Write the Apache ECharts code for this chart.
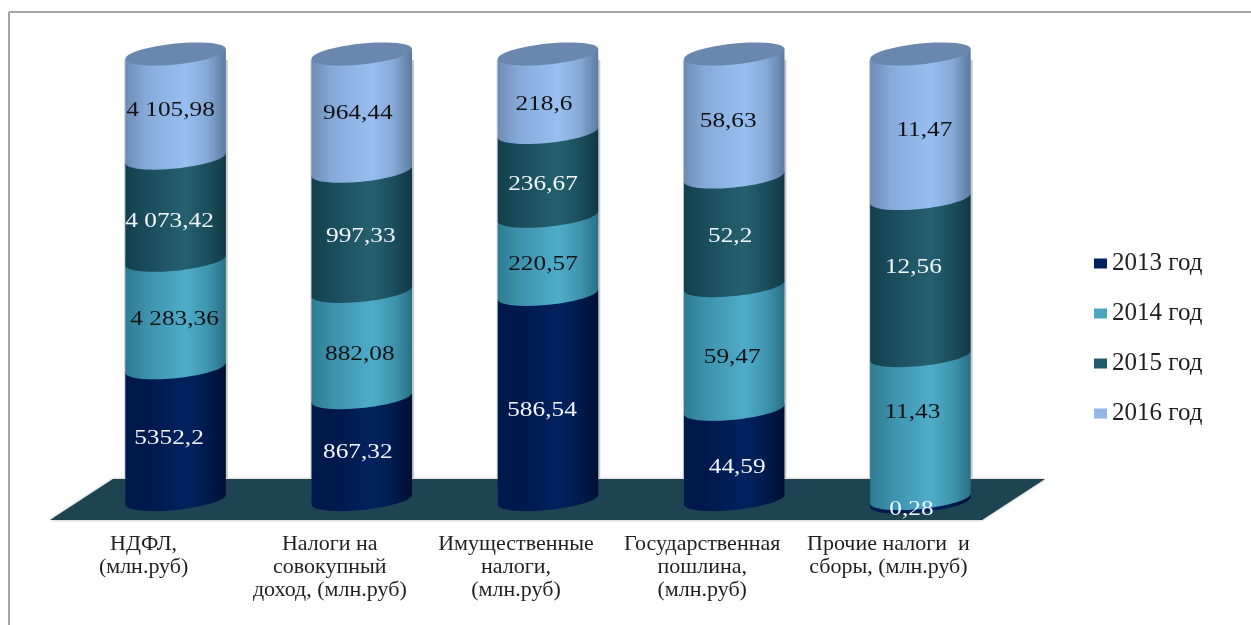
<!DOCTYPE html>
<html>
<head>
<meta charset="utf-8">
<style>html,body{margin:0;padding:0;background:#fff}#main{width:1251px;height:625px}</style>
<script src="https://cdn.jsdelivr.net/npm/echarts@6/dist/echarts.min.js"></script>
</head>
<body>
<div id="main"></div>
<script>
const categories = ['НДФЛ,\n(млн.руб)', 'Налоги на\nсовокупный\nдоход, (млн.руб)', 'Имущественные\nналоги,\n(млн.руб)', 'Государственная\nпошлина,\n(млн.руб)', 'Прочие налоги  и\nсборы, (млн.руб)'];
const seriesNames = ['2013 год', '2014 год', '2015 год', '2016 год'];
const values2013 = [5352.2, 867.32, 586.54, 44.59, 0.28];
const values2014 = [4283.36, 882.08, 220.57, 59.47, 11.43];
const values2015 = [4073.42, 997.33, 236.67, 52.2, 12.56];
const values2016 = [4105.98, 964.44, 218.6, 58.63, 11.47];
const labels2013 = ['5352,2', '867,32', '586,54', '44,59', '0,28'];
const labels2014 = ['4 283,36', '882,08', '220,57', '59,47', '11,43'];
const labels2015 = ['4 073,42', '997,33', '236,67', '52,2', '12,56'];
const labels2016 = ['4 105,98', '964,44', '218,6', '58,63', '11,47'];

const allValues = [values2013, values2014, values2015, values2016];
const allLabels = [labels2013, labels2014, labels2015, labels2016];
const legendColors = ['#002060', '#4aa5c2', '#215a6b', '#93b7e9'];
const gradients = [
  ['#001a4c', '#00174a', '#02225f', '#001a4c', '#000f33'],
  ['#2f7b93', '#3c90aa', '#4fadca', '#3f94ae', '#2a6f85'],
  ['#123f4c', '#1a4c5b', '#25606f', '#1b4e5c', '#113844'],
  ['#6e8cb5', '#86a9d9', '#98bff2', '#86a8d6', '#5c7aa0']
];
const labelColors = ['#f2f6ff', '#111111', '#f2f6ff', '#111111'];
// Hand placement of the value labels, as in the reference: pixel nudge [dx, dy] from each segment's middle.
const labelNudges = [
  [[-6.6, 3.6], [-4, 2.7], [-6, 12.3], [3, 12], [-9, 10]],
  [[-1, 5.5], [-2, 10], [-5, 9], [-2, 10], [-8, -14.5]],
  [[-6, 12.5], [-1, 6], [-5, 10], [-4, 6], [-7, -9.5]],
  [[-5, 4], [-4, 0.5], [-4, 11], [-6, 5.5], [4, 4]]
];

const gradientFill = (c) => new echarts.graphic.LinearGradient(0, 0, 1, 0, [
  {offset: 0, color: c[0]}, {offset: 0.2, color: c[1]}, {offset: 0.6, color: c[2]}, {offset: 0.82, color: c[3]}, {offset: 1, color: c[4]}
]);

const RY = 10.5, TILT = 5, STRETCH = 1.265, TOP_LIFT = 1, BASE_LIFT = 2.5, FLOOR_DEPTH = 24;
function arcPoints(cx, a, y, from, to) {
  const pts = [];
  const n = 48;
  for (let i = 0; i <= n; i++) {
    const t = from + (to - from) * i / n;
    pts.push([cx + a * Math.cos(t), y + RY * Math.sin(t) - TILT * Math.cos(t)]);
  }
  return pts;
}

const makeSeries = (si) => {
  const last = si === allValues.length - 1;
  const data = categories.map((_, ci) => {
    const total = allValues.reduce((s, arr) => s + arr[ci], 0);
    let low = 0;
    for (let k = 0; k < si; k++) low += allValues[k][ci];
    const high = low + allValues[si][ci];
    return [ci, low / total * 100, high / total * 100];
  });
  return {
    type: 'custom',
    name: seriesNames[si],
    coordinateSystem: 'cartesian2d',
    itemStyle: {color: legendColors[si]},
    encode: {x: 0, y: [1, 2]},
    clip: false,
    silent: true,
    data,
    renderItem: (params, api) => {
      const ci = api.value(0);
      const lowP = api.coord([ci, api.value(1)]);
      const highP = api.coord([ci, api.value(2)]);
      const a = api.size([1, 0])[0] * 0.27;
      const cx = lowP[0];
      const h = lowP[1] - highP[1];
      const lowY = si === 0 && h >= 10 ? lowP[1] - BASE_LIFT : lowP[1];
      const highY = last ? highP[1] - TOP_LIFT : highP[1];
      const bottomArc = arcPoints(cx, a, lowY, Math.PI, 0);
      const topEdge = [[cx + a, highY - TILT], [cx - a, highY + TILT]];
      const children = [];
      if (si === 0) {
        // soft grey edge that the cylinders cast on the white page, stopping at the floor
        const topY = api.coord([ci, 100])[1] + TILT;
        children.push({
          type: 'rect',
          z2: -1,
          shape: {x: cx - a - 1, y: topY, width: 2 * a + 3, height: lowP[1] - FLOOR_DEPTH - topY},
          style: {fill: '#c6cacf'}
        });
      }
      children.push({
        type: 'polygon',
        shape: {points: bottomArc.concat(topEdge)},
        style: {fill: gradientFill(gradients[si])}
      });
      if (last) {
        children.push({
          type: 'polygon',
          z2: 5,
          shape: {points: arcPoints(cx, a, highY, 0, Math.PI * 2)},
          style: {fill: '#6a88ae'}
        });
      }
      const nudge = labelNudges[si][ci];
      children.push({
        type: 'text',
        z2: 100,
        x: cx + nudge[0],
        y: (lowP[1] + highP[1]) / 2 + nudge[1],
        scaleX: STRETCH,
        style: {
          text: allLabels[si][ci],
          fill: labelColors[h < 10 ? 0 : si],
          font: '20px "Liberation Serif"',
          align: 'center',
          verticalAlign: 'middle'
        }
      });
      return {type: 'group', children};
    }
  };
};

const chart = echarts.init(document.getElementById('main'));
chart.setOption({
  animation: false,
  backgroundColor: '#ffffff',
  grid: {left: 82.5, width: 931, top: 55, height: 447},
  xAxis: {
    type: 'category',
    data: categories,
    axisLine: {show: false},
    axisTick: {show: false},
    axisLabel: {
      interval: 0,
      margin: 31,
      color: '#1f1f1f',
      fontFamily: 'Liberation Serif',
      fontSize: 22,
      lineHeight: 23,
      padding: [0, 64, 0, 0]
    }
  },
  yAxis: {type: 'value', min: 0, max: 100, show: false},
  legend: {
    orient: 'vertical',
    left: 1089,
    top: 246,
    itemWidth: 13,
    itemHeight: 10,
    itemGap: 25,
    icon: 'rect',
    data: seriesNames,
    textStyle: {fontFamily: 'Liberation Serif', fontSize: 25, color: '#1f1f1f'}
  },
  graphic: [
    {type: 'line', z: -1, silent: true, shape: {x1: 9, y1: 12, x2: 1251, y2: 12}, style: {stroke: '#a6a6a6', lineWidth: 2}},
    {type: 'line', z: -1, silent: true, shape: {x1: 9, y1: 12, x2: 9, y2: 625}, style: {stroke: '#a6a6a6', lineWidth: 2}},
    {type: 'polygon', z: -1, silent: true, shape: {points: [[50, 520], [113, 479], [1045, 479], [982, 520]]}, style: {fill: '#1d4450', shadowColor: 'rgba(0,0,0,0.35)', shadowBlur: 3}}
  ],
  series: seriesNames.map((_, i) => makeSeries(i))
});
</script>
</body>
</html>
